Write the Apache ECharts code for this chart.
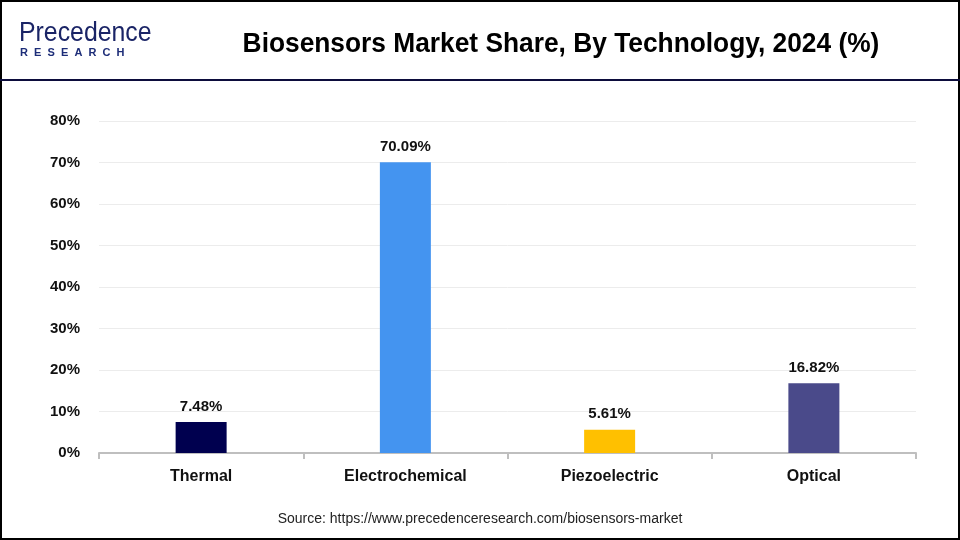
<!DOCTYPE html>
<html><head><meta charset="utf-8">
<script src="https://cdn.jsdelivr.net/npm/echarts@6/dist/echarts.min.js"></script>
<style>html,body{margin:0;padding:0;background:#fff}#c{width:960px;height:540px}</style>
</head><body><div id="c"></div>
<script>
const categories = ['Thermal', 'Electrochemical', 'Piezoelectric', 'Optical'];
const values = [7.48, 70.09, 5.61, 16.82];
const barColors = ['#00004f', '#4494f0', '#ffc000', '#4a4a8a'];
const yTicks = [0, 10, 20, 30, 40, 50, 60, 70, 80];
const titleText = 'Biosensors Market Share, By Technology, 2024 (%)';
const sourceText = 'Source: https://www.precedenceresearch.com/biosensors-market';

const chart = echarts.init(document.getElementById('c'), null, {renderer: 'canvas'});
chart.setOption({
  animation: false,
  backgroundColor: '#fff',
  grid: {left: 99, right: 44, top: 121, bottom: 87},
  xAxis: {
    type: 'category', data: categories,
    axisLine: {lineStyle: {color: '#bfbfbf', width: 2}},
    axisTick: {show: true, length: 6, lineStyle: {color: '#bfbfbf', width: 2}},
    axisLabel: {color: '#111', fontWeight: 'bold', fontSize: 16, fontFamily: 'Liberation Sans', margin: 16}
  },
  yAxis: {
    type: 'value', min: yTicks[0], max: yTicks[yTicks.length - 1], interval: 10,
    axisLine: {show: false}, axisTick: {show: false},
    splitLine: {lineStyle: {color: '#ececec', width: 1}},
    axisLabel: {formatter: '{value}%', color: '#111', fontWeight: 'bold', fontSize: 15, fontFamily: 'Liberation Sans', margin: 19, padding: [4, 0, 0, 0]}
  },
  series: [{
    type: 'bar', barWidth: 51,
    data: values.map((v, i) => ({value: v, itemStyle: {color: barColors[i]}})),
    label: {show: true, position: 'top', distance: 8, formatter: p => p.value.toFixed(2) + '%',
      color: '#111', fontWeight: 'bold', fontSize: 15, fontFamily: 'Liberation Sans'}
  }],
  graphic: [
    {type: 'rect', shape: {x: 1, y: 1, width: 958, height: 538}, style: {fill: 'none', stroke: '#000', lineWidth: 2}, silent: true},
    {type: 'rect', shape: {x: 0, y: 79, width: 960, height: 2}, style: {fill: '#0c0c3c'}, silent: true},
    {type: 'text', x: 561, y: 44, scaleX: 0.94, style: {text: titleText, fill: '#000', font: 'bold 28px "Liberation Sans"', textAlign: 'center', textVerticalAlign: 'middle'}},
    {type: 'text', x: 19, y: 20, scaleX: 0.92, style: {text: 'Precedence', fill: '#1a2466', font: '27px "Liberation Sans"'}},
    {type: 'text', x: 20, y: 47, style: {text: 'R  E  S  E  A  R  C  H', fill: '#1d2d78', font: 'bold 11px "Liberation Sans"'}},
    {type: 'text', x: 480, y: 519, style: {text: sourceText, fill: '#222', font: '14px "Liberation Sans"', textAlign: 'center', textVerticalAlign: 'middle'}}
  ]
});
</script></body></html>
